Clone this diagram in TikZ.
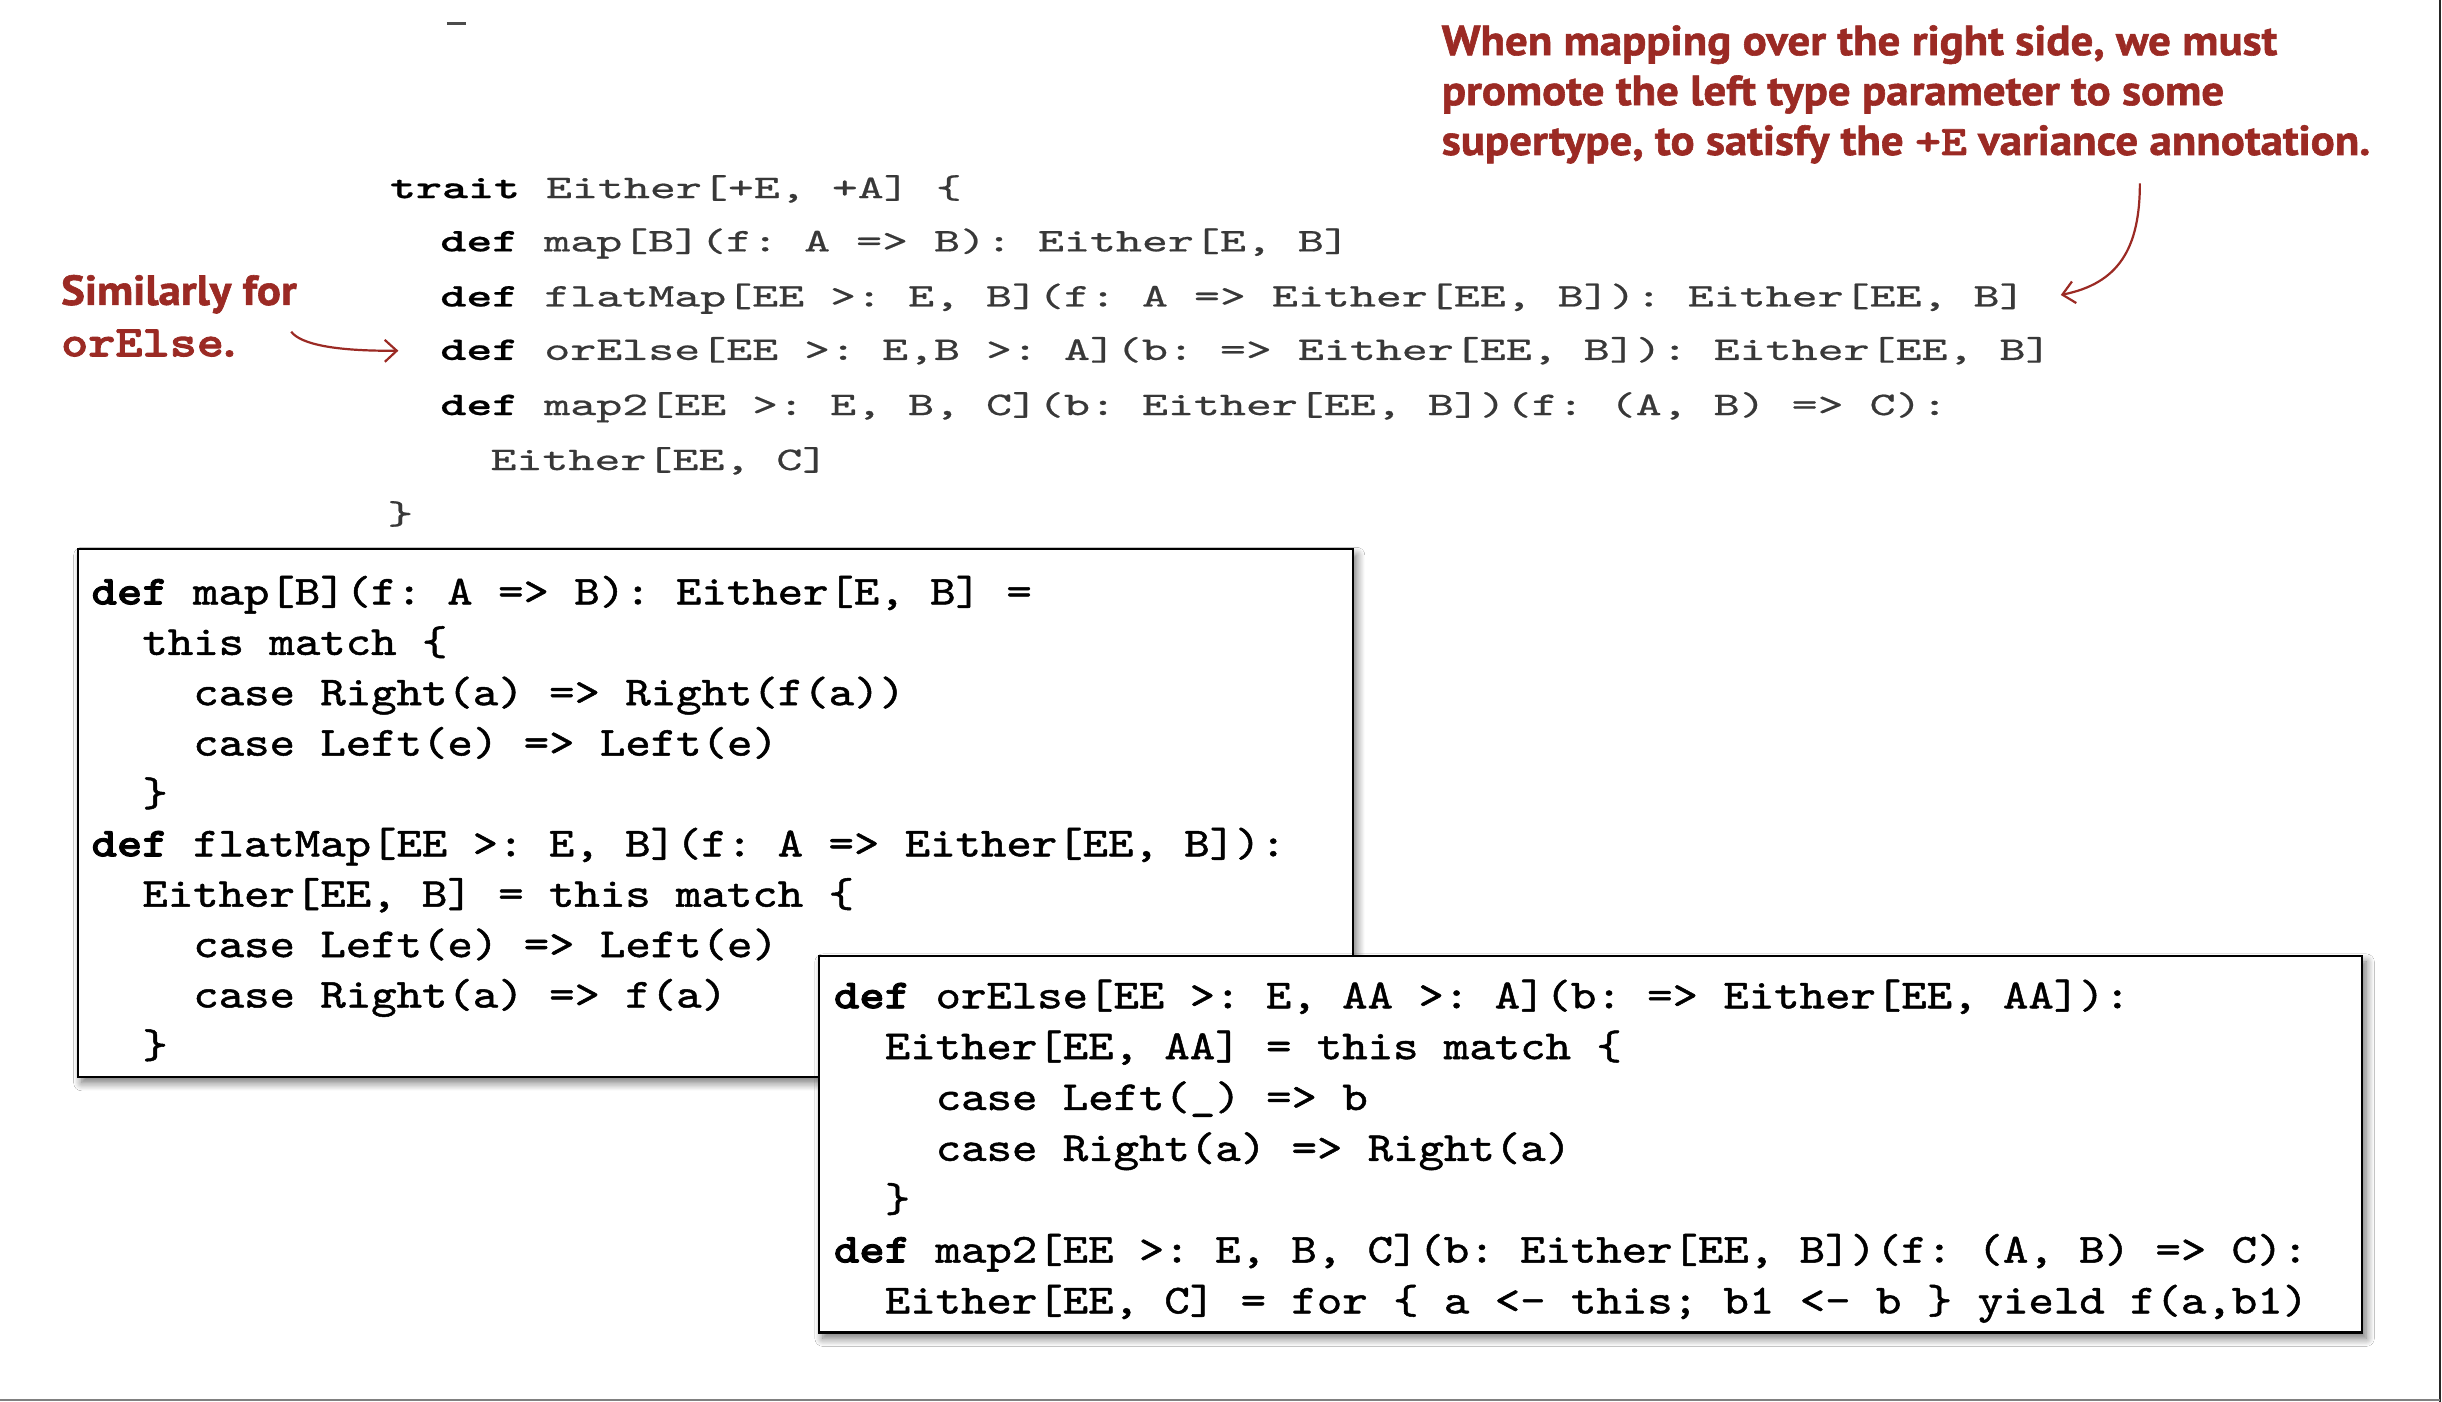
\documentclass[tikz,border=0pt]{standalone}
\usepackage{fontspec}
\usetikzlibrary{arrows.meta,shadows.blur}
\definecolor{annred}{HTML}{9B2A24}
\newfontfamily\topcode{lmmono10-regular.otf}[FakeStretch=1.50,FakeBold=0.6,BoldFont=lmmonolt10-bold.otf,BoldFeatures={FakeStretch=1.50}]
\newfontfamily\boxcode{lmmono10-regular.otf}[FakeStretch=1.175,FakeBold=1.2,BoldFont=lmmonolt10-bold.otf,BoldFeatures={FakeStretch=1.175,FakeBold=2}]
\newfontfamily\annfont{PT Sans}[FakeStretch=1.07,BoldFeatures={FakeBold=1.4}]
\newcommand\kwd[1]{\rlap{\bfseries\color{black}#1}\phantom{#1}}
\newcommand\monospaces{\fontdimen2\font=\fontcharwd\font`M\relax\fontdimen3\font=0pt\fontdimen4\font=0pt\fontdimen7\font=0pt\relax}
\frenchspacing
\tikzset{
  codeT/.style={anchor=base west, inner sep=0pt, text=black!78, font=\topcode\fontsize{16.5}{18}\selectfont\monospaces\frenchspacing},
  codeB/.style={anchor=base west, inner sep=0pt, text=black, font=\boxcode\fontsize{20.6}{22}\selectfont\monospaces\frenchspacing},
  ann/.style={anchor=base west, inner sep=0pt, text=annred, font=\annfont\bfseries\fontsize{21}{25}\selectfont},
  codebox/.style={draw=black, fill=white, line width=1.2pt, blur shadow={shadow xshift=2pt, shadow yshift=-3pt, shadow blur radius=4pt, shadow blur steps=10, shadow opacity=55}},
  annarrow/.style={draw=annred, line width=1.1pt, -{Straight Barb[length=6pt,width=11pt]}}
}
\begin{document}
\begin{tikzpicture}[x=0.7787pt,y=-0.7787pt]
\useasboundingbox (0,0) rectangle (1568,900);
\fill[white] (0,0) rectangle (1568,900);
% edges of the page
\draw[black!85, line width=1pt] (1566.6,0) -- (1566.6,900);
\draw[black!50, line width=1pt] (0,898.9) -- (1566.6,898.9);
\draw[black!70, line width=1.2pt] (287,15) -- (299,15);

% annotation top right
\node[ann] (ann1) at (925.5,35.4) {When mapping over the right side, we must};
\node[ann] (ann2) at (925.5,67.5) {promote the left type parameter to some};
\node[ann] (ann3) at (925.5,99.5) {supertype, to satisfy the {\boxcode\bfseries +E} variance annotation.};
% annotation left
\node[ann] (sim1) at (39,195.8) {Similarly for};
\node[ann] (sim2) at (39,228.8) {{\boxcode\bfseries\fontsize{22}{25}\selectfont orElse}.};

% top code
\node[codeT] (t1) at (250.2,127.2) {\kwd{trait} Either[+E, +A] \{};
\node[codeT] (t2) at (282.5,161.4) {\kwd{def} map[B](f: A => B): Either[E, B]};
\node[codeT] (t3) at (282.5,196.8) {\kwd{def} flatMap[EE >: E, B](f: A => Either[EE, B]): Either[EE, B]};
\node[codeT] (t4) at (282.5,231.1) {\kwd{def} orElse[EE >: E,B >: A](b: => Either[EE, B]): Either[EE, B]};
\node[codeT] (t5) at (282.5,266.5) {\kwd{def} map2[EE >: E, B, C](b: Either[EE, B])(f: (A, B) => C):};
\node[codeT] (t6) at (314.7,301.8) {Either[EE, C]};
\node[codeT] (t7) at (248.5,336.5) {\}};

% arrows
\coordinate (a1s) at (187,213);
\coordinate (a1e) at (255.8,225.2);
\draw[annarrow] (a1s) .. controls (193,221) and (215,225.5) .. (a1e);
\coordinate (a2s) at (1374,117.7);
\coordinate (a2e) at (1323.2,189.4);
\draw[annarrow] (a2s) .. controls (1374,160) and (1360,182) .. (a2e);

% box 1
\path[codebox] (49.9,352.7) rectangle (868.6,691.4);
\node[codeB] (b1l1) at (58.5,388.1) {\kwd{def} map[B](f: A => B): Either[E, B] =};
\node[codeB] (b1l2) at (91.2,420.45) {this match \{};
\node[codeB] (b1l3) at (123.9,452.8) {case Right(a) => Right(f(a))};
\node[codeB] (b1l4) at (123.9,485.15) {case Left(e) => Left(e)};
\node[codeB] (b1l5) at (91.2,517.5) {\}};
\node[codeB] (b1l6) at (58.5,549.85) {\kwd{def} flatMap[EE >: E, B](f: A => Either[EE, B]):};
\node[codeB] (b1l7) at (91.2,582.2) {Either[EE, B] = this match \{};
\node[codeB] (b1l8) at (123.9,614.55) {case Left(e) => Left(e)};
\node[codeB] (b1l9) at (123.9,646.9) {case Right(a) => f(a)};
\node[codeB] (b1l10) at (91.2,679.25) {\}};

% box 2
\path[codebox] (525.8,613.8) rectangle (1516.8,855.5);
\node[codeB] (b2l1) at (535.2,647.4) {\kwd{def} orElse[EE >: E, AA >: A](b: => Either[EE, AA]):};
\node[codeB] (b2l2) at (567.9,680.05) {Either[EE, AA] = this match \{};
\node[codeB] (b2l3) at (600.6,712.7) {case Left(\_) => b};
\node[codeB] (b2l4) at (600.6,745.35) {case Right(a) => Right(a)};
\node[codeB] (b2l5) at (567.9,778.0) {\}};
\node[codeB] (b2l6) at (535.2,810.65) {\kwd{def} map2[EE >: E, B, C](b: Either[EE, B])(f: (A, B) => C):};
\node[codeB] (b2l7) at (567.9,843.3) {Either[EE, C] = for \{ a <- this; b1 <- b \} yield f(a,b1)};
\end{tikzpicture}
\end{document}
